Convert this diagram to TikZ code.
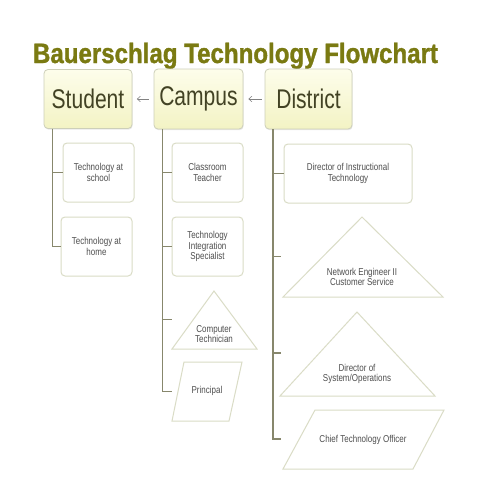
\documentclass[tikz,border=0pt]{standalone}
\usepackage{fontspec}
\setmainfont{Liberation Sans}
\newfontfamily\narrowf[FakeStretch=0.8]{Liberation Sans}
\newfontfamily\headf[FakeStretch=0.78]{Liberation Sans}
\newfontfamily\titlef[FakeStretch=0.86,FakeBold=1.2]{Liberation Sans Bold}
\usetikzlibrary{arrows.meta,shadows}
\definecolor{titlecol}{RGB}{122,122,18}
\definecolor{headtext}{RGB}{66,66,36}
\definecolor{htop}{RGB}{253,253,235}
\definecolor{hbot}{RGB}{243,243,196}
\definecolor{hborder}{RGB}{205,207,185}
\definecolor{cborder}{RGB}{218,220,198}
\definecolor{ctext}{RGB}{78,78,78}
\definecolor{trunkcol}{RGB}{135,135,108}
\definecolor{arrcol}{RGB}{130,130,130}
\tikzset{
  headbox/.style={draw=hborder, line width=0.8pt, rounded corners=4pt,
    top color=htop, bottom color=hbot, minimum width=88pt, minimum height=59pt,
    inner sep=0pt, font=\headf\fontsize{27}{30}\selectfont, text=headtext,
    drop shadow={opacity=0.18, shadow xshift=0.6pt, shadow yshift=-1.2pt}},
  childbox/.style={draw=cborder, line width=1pt, rounded corners=4pt, fill=white,
    minimum width=71pt, minimum height=59pt, inner sep=0pt, align=center,
    font=\narrowf\fontsize{10}{10.5}\selectfont, text=ctext},
  lbl/.style={align=center, inner sep=0pt, font=\narrowf\fontsize{10}{10.5}\selectfont, text=ctext},
  shapeline/.style={draw=cborder, line width=1pt, fill=white, line join=miter},
  trunk/.style={draw=trunkcol, line width=1.6pt},
  harrow/.style={draw=arrcol, line width=0.6pt, -{Straight Barb[length=3pt,width=5.5pt]}}
}
\begin{document}
\begin{tikzpicture}[x=1pt,y=-1pt]
\useasboundingbox[fill=white] (0,0) rectangle (480,480);

% title
\node[anchor=base, inner sep=0pt, text=titlecol, font=\titlef\fontsize{28}{30}\selectfont] (title) at (235.5,63) {Bauerschlag Technology Flowchart};

% headers
\node[headbox] (student) at (88,99) {Student};
\node[headbox, minimum width=89pt, minimum height=60pt] (campus) at (198.5,99) {Campus};
\node[headbox, minimum width=87pt, minimum height=60pt] (district) at (308.5,99) {District};

\draw[harrow, shorten <=5pt, shorten >=4.5pt] (campus.west) -- (student.east);
\draw[harrow, shorten <=3pt, shorten >=5pt] (district.west) -- (campus.east);

% student children
\node[childbox] (school) at (98.5,172.5) {Technology at\\school};
\node[childbox] (home) at (96.5,246.5) {Technology at\\home};

% campus children
\node[childbox] (teacher) at (207.5,172.5) {Classroom\\Teacher};
\node[childbox] (integ) at (207.5,246.5) {Technology\\Integration\\Specialist};
\draw[shapeline] (214,291) -- (257,349) -- (172,349) -- cycle;
\node[lbl] (comptech) at (214,334) {Computer\\Technician};
\draw[shapeline] (184,362) -- (242,362) -- (229,421) -- (172,421) -- cycle;
\node[lbl] (principal) at (207,391) {Principal};

% district children
\node[childbox, minimum width=128pt] (dirinst) at (348,173.5) {Director of Instructional\\Technology};
\draw[shapeline] (362,217) -- (443,297) -- (283,297) -- cycle;
\node[lbl] (neteng) at (362,277) {Network Engineer II\\Customer Service};
\draw[shapeline] (357,312) -- (435,396) -- (280,396) -- cycle;
\node[lbl] (dirsys) at (357,374) {Director of\\System/Operations};
\draw[shapeline] (315,410) -- (444,410) -- (413,469) -- (283,469) -- cycle;
\node[lbl] (cto) at (363,439.5) {Chief Technology Officer};

% tick end points
\coordinate (ct1) at (172,319.5);
\coordinate (pr1) at (172,391.5);
\coordinate (ne1) at (281,256.5);
\coordinate (ds1) at (281,353);
\coordinate (cto1) at (281,439);

% trunks
\path (student.south west) ++(9,0) coordinate (st);
\path (campus.south west) ++(9,0) coordinate (ct);
\path (district.south west) ++(8.5,0) coordinate (dt);

\draw[trunk] (st) -- (st |- home.west) -- (home.west);
\draw[trunk] (st |- school.west) -- (school.west);

\draw[trunk] (ct) -- (ct |- pr1) -- (pr1);
\draw[trunk] (ct |- teacher.west) -- (teacher.west);
\draw[trunk] (ct |- integ.west) -- (integ.west);
\draw[trunk] (ct |- ct1) -- (ct1);

\draw[trunk] (dt) -- (dt |- cto1) -- (cto1);
\draw[trunk] (dt |- dirinst.west) -- (dirinst.west);
\draw[trunk] (dt |- ne1) -- (ne1);
\draw[trunk] (dt |- ds1) -- (ds1);
\end{tikzpicture}
\end{document}
